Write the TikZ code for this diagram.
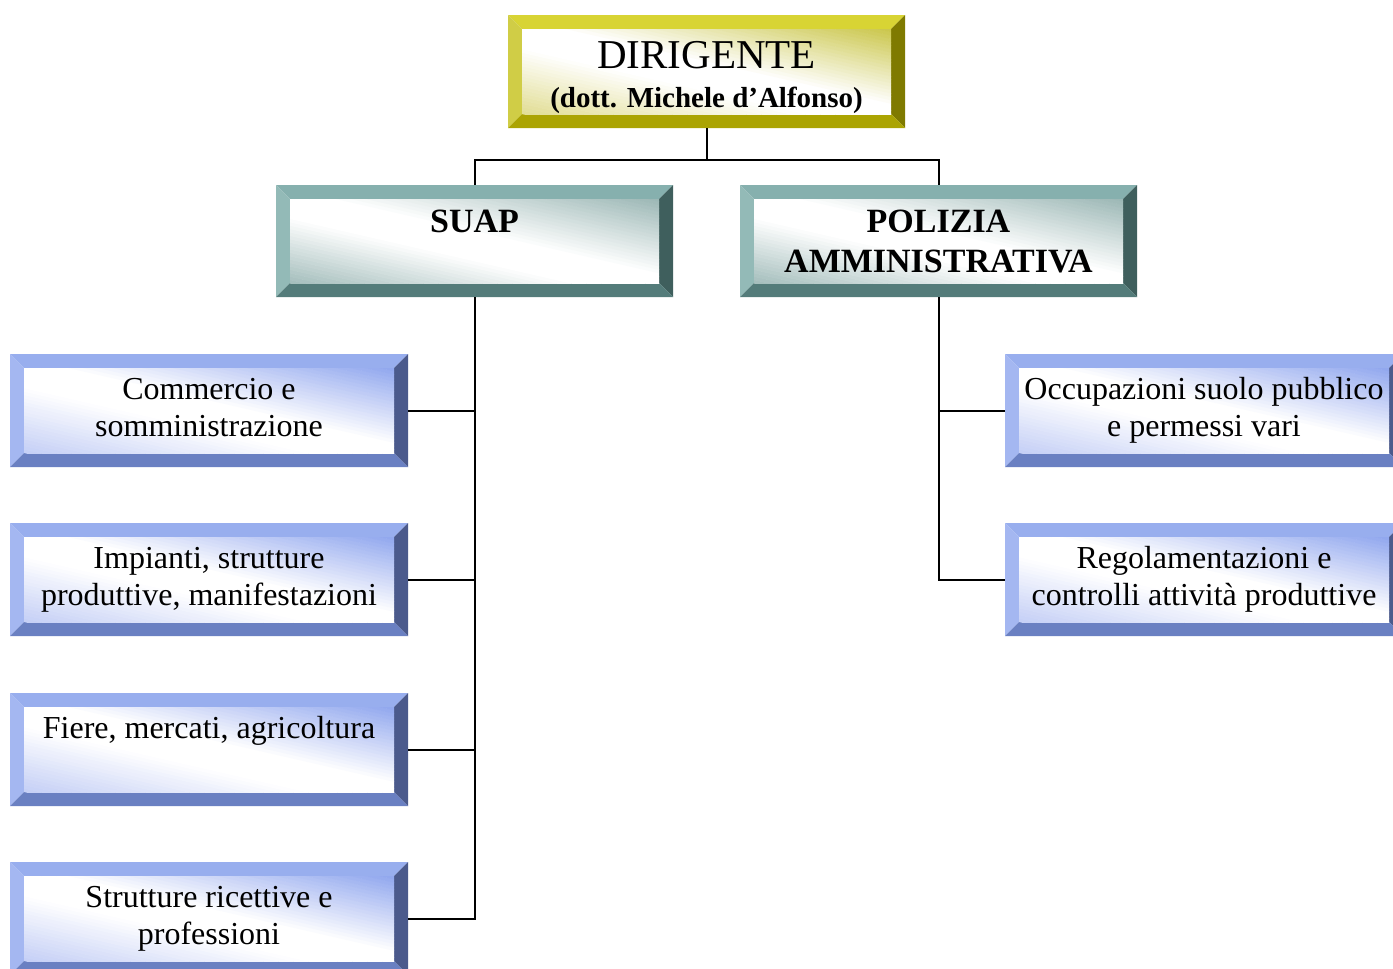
\documentclass[tikz,border=0pt]{standalone}
\usepackage{fontspec}
\setmainfont{Liberation Serif}
\usetikzlibrary{calc}

% bevel palettes: top, left, right, bottom faces and inner tints
\definecolor{goldT}{HTML}{D8D434}
\definecolor{goldL}{HTML}{D0CD46}
\definecolor{goldR}{HTML}{7F7A00}
\definecolor{goldB}{HTML}{ABA402}
\definecolor{goldHi}{HTML}{CAC64A}
\definecolor{goldLo}{HTML}{E2DE96}
\definecolor{tealT}{HTML}{86B0AE}
\definecolor{tealL}{HTML}{93BAB7}
\definecolor{tealR}{HTML}{3F5F5D}
\definecolor{tealB}{HTML}{547C7A}
\definecolor{tealHi}{HTML}{9AB6B4}
\definecolor{tealLo}{HTML}{A6BFBD}
\definecolor{blueT}{HTML}{98AEEE}
\definecolor{blueL}{HTML}{A4B7F1}
\definecolor{blueR}{HTML}{4B5A8C}
\definecolor{blueB}{HTML}{6A80C2}
\definecolor{blueHi}{HTML}{90A6EE}
\definecolor{blueLo}{HTML}{C6D0F6}

\tikzset{
  bevelbox/.style n args={6}{rectangle, inner sep=0pt, outer sep=0pt,
    minimum width=398pt, minimum height=113pt,
    path picture={
      \fill[#1] (path picture bounding box.north west) -- (path picture bounding box.north east)
        -- ([shift={(-14pt,-14pt)}]path picture bounding box.north east)
        -- ([shift={(14pt,-14pt)}]path picture bounding box.north west) -- cycle;
      \fill[#2] (path picture bounding box.north west)
        -- ([shift={(14pt,-14pt)}]path picture bounding box.north west)
        -- ([shift={(14pt,14pt)}]path picture bounding box.south west)
        -- (path picture bounding box.south west) -- cycle;
      \fill[#3] (path picture bounding box.north east) -- (path picture bounding box.south east)
        -- ([shift={(-14pt,14pt)}]path picture bounding box.south east)
        -- ([shift={(-14pt,-14pt)}]path picture bounding box.north east) -- cycle;
      \fill[#4] (path picture bounding box.south west) -- (path picture bounding box.south east)
        -- ([shift={(-14pt,14pt)}]path picture bounding box.south east)
        -- ([shift={(14pt,14pt)}]path picture bounding box.south west) -- cycle;
      \begin{scope}
        \clip ([shift={(14pt,-14pt)}]path picture bounding box.north west)
          rectangle ([shift={(-14pt,14pt)}]path picture bounding box.south east);
        % inner panel: diagonal bands, tinted towards lower-left and upper-right corners
        \begin{scope}[shift={(path picture bounding box.center)}]
          \foreach \i in {0,...,49}{
            \pgfmathsetmacro\ta{-1+\i/25}
            \pgfmathsetmacro\tb{\ta+0.045}
            \pgfmathsetmacro\wlo{max(0,min(100,(-0.25-\ta)/0.75*100))}
            \pgfmathsetmacro\whi{max(0,min(100,(\ta-0.08)/0.9*100))}
            \pgfmathsetmacro\ya{(2*\ta+2)*42.5}
            \pgfmathsetmacro\yb{(2*\ta-2)*42.5}
            \pgfmathsetmacro\yc{(2*\tb-2)*42.5}
            \pgfmathsetmacro\yd{(2*\tb+2)*42.5}
            \ifnum\i<25
              \fill[#5!\wlo!white] (-370pt,\ya pt) -- (370pt,\yb pt) -- (370pt,\yc pt) -- (-370pt,\yd pt) -- cycle;
            \else
              \fill[#6!\whi!white] (-370pt,\ya pt) -- (370pt,\yb pt) -- (370pt,\yc pt) -- (-370pt,\yd pt) -- cycle;
            \fi
          }
        \end{scope}
      \end{scope}
    }},
  goldbox/.style={bevelbox={goldT}{goldL}{goldR}{goldB}{goldLo}{goldHi}, minimum width=397pt},
  tealbox/.style={bevelbox={tealT}{tealL}{tealR}{tealB}{tealLo}{tealHi}, minimum width=397pt, minimum height=112pt},
  bluebox/.style={bevelbox={blueT}{blueL}{blueR}{blueB}{blueLo}{blueHi}},
  boxtext/.style={inner sep=0pt, align=center, anchor=base, font=\fontsize{32}{37}\selectfont},
  headtext/.style={inner sep=0pt, align=center, anchor=base, font=\bfseries\fontsize{34}{40}\selectfont},
  conn/.style={draw=black, line width=2pt}
}

\begin{document}
\begin{tikzpicture}[x=1pt, y=-1pt]
\useasboundingbox (0,0) rectangle (1393,969);
\begin{scope}
\clip (0,0) rectangle (1393,969);

% boxes
\node[goldbox] (dir) at (706.5,71.5) {};
\node[tealbox] (suap) at (474.5,241) {};
\node[tealbox] (pol) at (938.5,241) {};
\node[bluebox] (c1) at (209,410.5) {};
\node[bluebox] (c2) at (209,579.5) {};
\node[bluebox] (c3) at (209,749.5) {};
\node[bluebox] (c4) at (209,918.5) {};
\node[bluebox] (r1) at (1204,410.5) {};
\node[bluebox] (r2) at (1204,579.5) {};

% connectors
\coordinate (bus) at (706.5,160);
\draw[conn] (dir.south) -- (bus);
\draw[conn] (suap.north) |- (bus) -| (pol.north);
\draw[conn] (suap.south) |- (c4.east);
\draw[conn] (c1.east) -- (c1.east -| suap.south);
\draw[conn] (c2.east) -- (c2.east -| suap.south);
\draw[conn] (c3.east) -- (c3.east -| suap.south);
\draw[conn] (pol.south) |- (r2.west);
\draw[conn] (r1.west) -- (r1.west -| pol.south);

% labels (base anchor sits on the last line)
\node[inner sep=0pt, anchor=base, font=\fontsize{41}{41}\selectfont] (dirT) at (706.5,68) {DIRIGENTE};
\node[inner sep=0pt, anchor=base, font=\bfseries\fontsize{29}{29}\selectfont] (dirS) at (706.5,107) {(dott. Michele d’Alfonso)};
\node[headtext] (suapT) at (474.5,232) {SUAP};
\node[headtext] (polT) at (938.5,272) {POLIZIA\\AMMINISTRATIVA};
\node[boxtext] (c1T) at (209,436) {Commercio e\\somministrazione};
\node[boxtext] (c2T) at (209,605) {Impianti, strutture\\produttive, manifestazioni};
\node[boxtext] (c3T) at (209,738) {Fiere, mercati, agricoltura};
\node[boxtext] (c4T) at (209,944) {Strutture ricettive e\\professioni};
\node[boxtext] (r1T) at (1204,436) {Occupazioni suolo pubblico\\e permessi vari};
\node[boxtext] (r2T) at (1204,605) {Regolamentazioni e\\controlli attività produttive};
\end{scope}
\end{tikzpicture}
\end{document}
